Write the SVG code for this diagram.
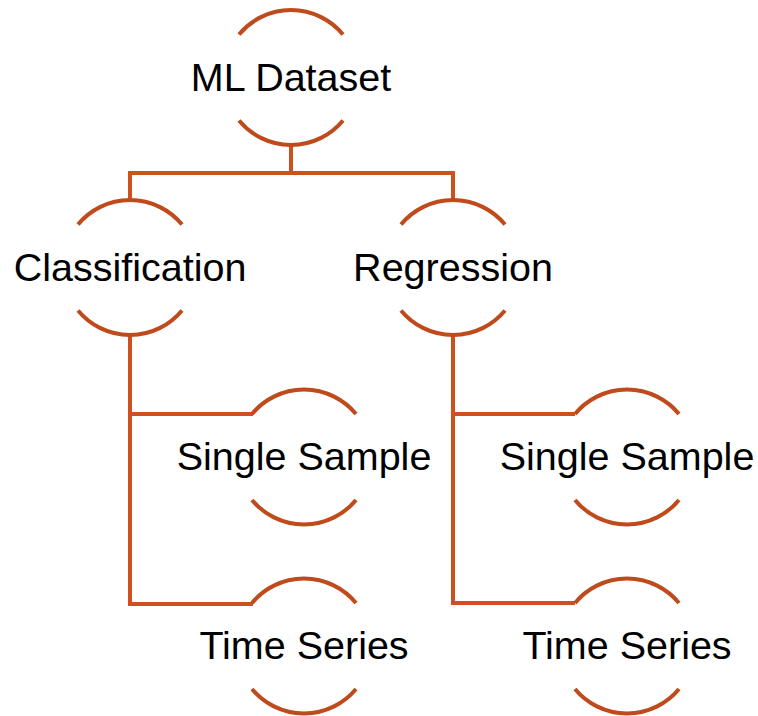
<svg xmlns="http://www.w3.org/2000/svg" width="758" height="716" viewBox="0 0 758 716">
  <style>
    .bg { fill: #ffffff; }
    .arc { fill: none; stroke: #bf4a1c; stroke-width: 4; }
    .link { fill: none; stroke: #cf501f; stroke-width: 4; stroke-linejoin: miter; }
    .label { font-family: "Liberation Sans", Arial, sans-serif; font-size: 39.5px; fill: #000000; text-anchor: middle; }
  </style>
  <defs>
    <!-- node outline: top and bottom arcs of a circle, r = 67.5, centred at 0,0 -->
    <g id="bang">
      <path class="arc" d="M-52,-43 A67.5,67.5 0 0 1 52,-43"/>
      <path class="arc" d="M-52,43 A67.5,67.5 0 0 0 52,43"/>
    </g>
  </defs>
  <rect class="bg" width="758" height="716"/>

  <g id="connectors">
    <path class="link" d="M291,145 V173"/>
    <path class="link" d="M130,200 V173 H453 V200"/>
    <path class="link" d="M130,335 V604 H253"/>
    <path class="link" d="M130,414 H253"/>
    <path class="link" d="M453,335 V603 H575"/>
    <path class="link" d="M453,414 H575"/>
  </g>

  <g id="node-ml-dataset" transform="translate(291,77.5)">
    <use href="#bang"/>
    <text class="label" x="0" y="13">ML Dataset</text>
  </g>
  <g id="node-classification" transform="translate(130,267.5)">
    <use href="#bang"/>
    <text class="label" x="0" y="13">Classification</text>
  </g>
  <g id="node-regression" transform="translate(453,267.5)">
    <use href="#bang"/>
    <text class="label" x="0" y="13">Regression</text>
  </g>
  <g id="node-class-single" transform="translate(304,457)">
    <use href="#bang"/>
    <text class="label" x="0" y="13">Single Sample</text>
  </g>
  <g id="node-class-time" transform="translate(304,646)">
    <use href="#bang"/>
    <text class="label" x="0" y="13">Time Series</text>
  </g>
  <g id="node-reg-single" transform="translate(627,457)">
    <use href="#bang"/>
    <text class="label" x="0" y="13">Single Sample</text>
  </g>
  <g id="node-reg-time" transform="translate(627,646)">
    <use href="#bang"/>
    <text class="label" x="0" y="13">Time Series</text>
  </g>
</svg>
